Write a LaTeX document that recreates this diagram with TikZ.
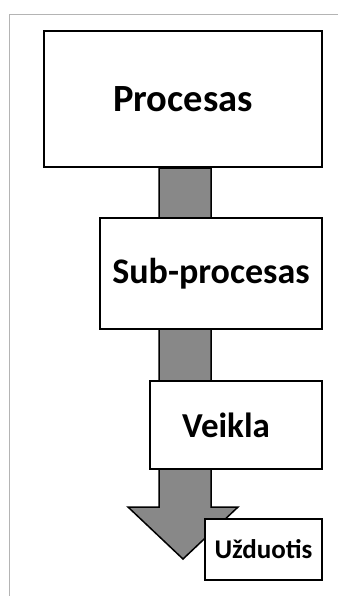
\documentclass[tikz,border=0pt]{standalone}
\usepackage{fontspec}
\setmainfont{Carlito}
\definecolor{ArrowGray}{HTML}{888888}
\definecolor{FrameGray}{HTML}{B4B4B4}

\begin{document}
\begin{tikzpicture}[x=1pt, y=-1pt,
        every node/.style={draw, rectangle, line width=2pt, fill=white, inner sep=0pt,
            font=\bfseries\fontsize{35}{40}\selectfont},
        big/.style={font=\bfseries\fontsize{38.5}{42}\selectfont},
        small/.style={font=\bfseries\fontsize{27}{30}\selectfont}]
        \useasboundingbox (0,0) rectangle (338,596);
        \draw[FrameGray, line width=1pt] (338,14.5) -- (9.5,14.5) -- (9.5,596);

        % wide arrow behind the boxes
        \draw[fill=ArrowGray, line width=1.5pt, line join=miter]
            (159,168) -- (211,168) -- (211,507) -- (238,507) -- (183,559)
            -- (128,507) -- (159,507) -- cycle;

        \node[big, minimum width=278pt, minimum height=136pt] (proc) at (183,99) {Procesas};
        \node[font=\bfseries\fontsize{36}{40}\selectfont, minimum width=222pt, minimum height=111pt] (subproc) at (211,273.5) {Sub-procesas};
        \node[minimum width=172pt, minimum height=88pt] (veikla) at (236,425) {Veikla\hspace*{20pt}};
        \node[small, minimum width=117pt, minimum height=61pt] (uzd) at (263.5,549.5) {Užduotis};
    \end{tikzpicture}
\end{document}
